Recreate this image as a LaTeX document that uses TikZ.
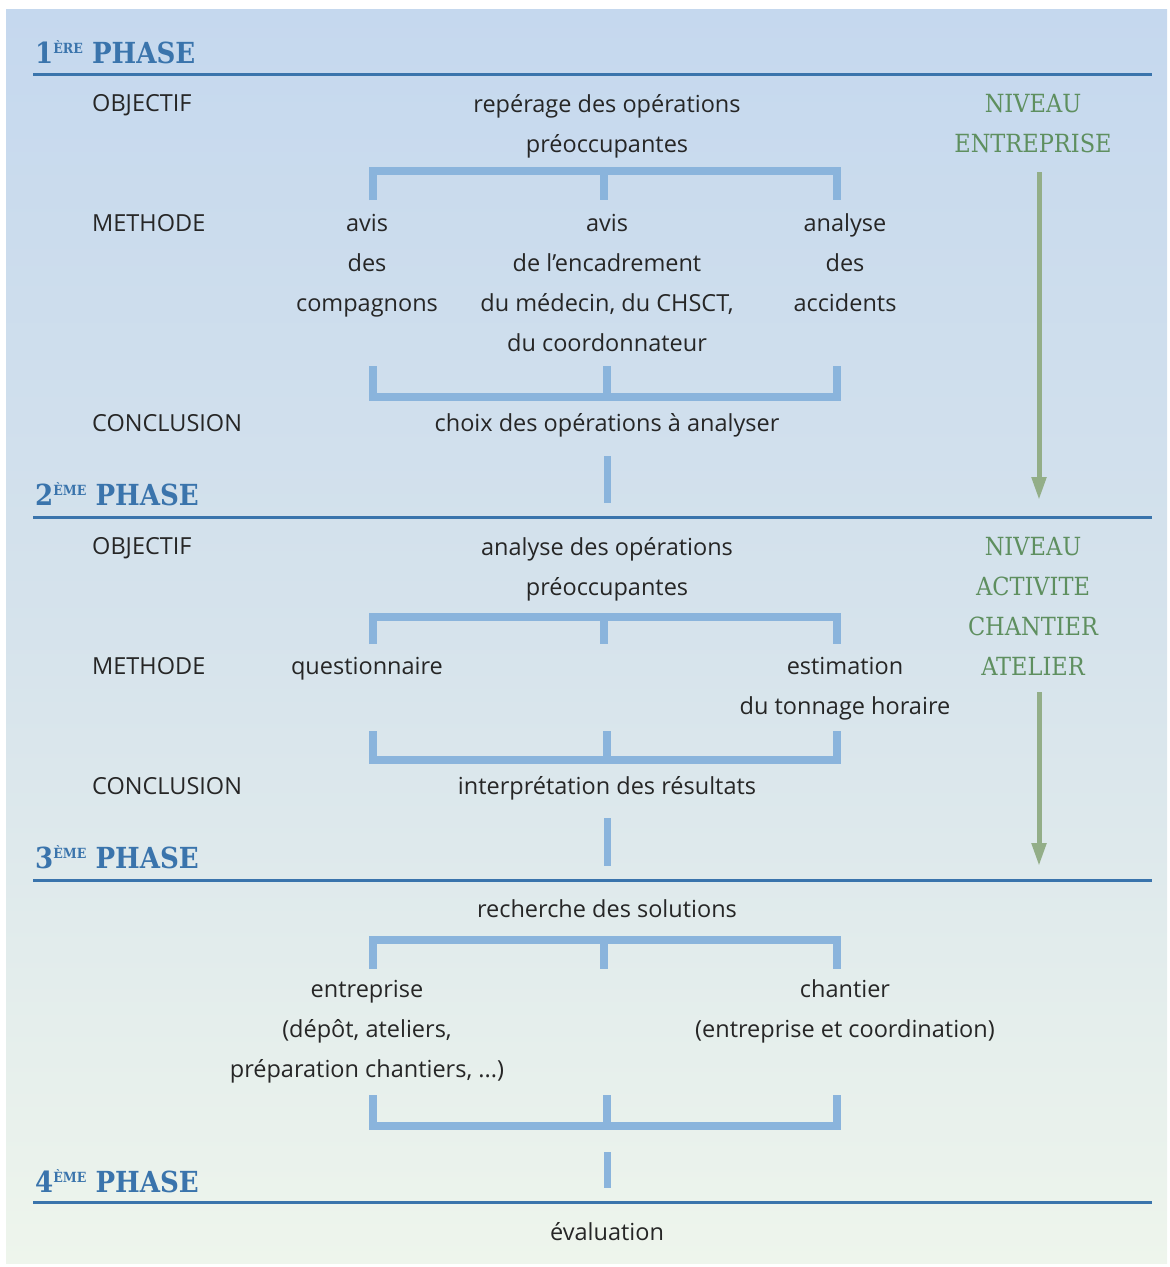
\documentclass[tikz,border=0pt]{standalone}
\usepackage{fontspec}
\setmainfont{Open Sans}
\newfontfamily\slab{DejaVu Serif Condensed}
\usetikzlibrary{arrows.meta}
\definecolor{bgtop}{HTML}{C5D8EE}
\definecolor{bgmid}{HTML}{D6E3EC}
\definecolor{bgbot}{HTML}{EEF5EC}
\definecolor{hblue}{HTML}{3A74AC}
\definecolor{brk}{HTML}{8AB4DC}
\definecolor{txt}{HTML}{262626}
\definecolor{grn}{HTML}{5E8F5F}
\definecolor{garrow}{HTML}{93AE88}
\newcommand\phsup[1]{\raisebox{10pt}{\fontsize{14}{14}\selectfont #1}}
\begin{document}
\begin{tikzpicture}[x=1pt,y=-1pt,
  body/.style={font=\fontsize{23.5}{40}\selectfont, text=txt, inner sep=0pt, align=center,
    execute at begin node=\strut, execute at end node=\strut},
  multi/.style={yshift=-6pt},
  lbl/.style={body, anchor=west},
  niveau/.style={font=\slab\fontsize{25}{40}\selectfont, text=grn, inner sep=0pt, align=center,
    execute at begin node=\strut, execute at end node=\strut, yshift=-6pt},
  phase/.style={font=\slab\bfseries\fontsize{29}{30}\selectfont, text=hblue, inner sep=0pt, anchor=base west},
  rule/.style={hblue, line width=3pt},
  bracket/.style={brk, line width=8pt},
  link/.style={brk, line width=7pt},
  garr/.style={garrow, line width=5pt, -{Triangle[length=23pt, width=14pt]}}
]
\useasboundingbox (0,0) rectangle (1170,1267);
\shade[top color=bgtop, bottom color=bgbot, middle color=bgmid] (6,9) rectangle (1167,1263);

% ---------- Phase headers and rules
\node[phase] (p1) at (35,63) {1\phsup{ÈRE} PHASE};
\node[phase] (p2) at (35,505) {2\phsup{ÈME} PHASE};
\node[phase] (p3) at (35,868) {3\phsup{ÈME} PHASE};
\node[phase] (p4) at (35,1192) {4\phsup{ÈME} PHASE};
\coordinate (r1a) at (33,74);  \coordinate (r1b) at (1152,74);
\coordinate (r2a) at (33,517); \coordinate (r2b) at (1152,517);
\coordinate (r3a) at (33,880); \coordinate (r3b) at (1152,880);
\coordinate (r4a) at (33,1202); \coordinate (r4b) at (1152,1202);
\draw[rule] (r1a) -- (r1b);
\draw[rule] (r2a) -- (r2b);
\draw[rule] (r3a) -- (r3b);
\draw[rule] (r4a) -- (r4b);

% ---------- Phase 1
\node[lbl] (o1) at (92,103) {OBJECTIF};
\node[lbl] (me1) at (92,223) {METHODE};
\node[lbl] (co1) at (92,423) {CONCLUSION};
\node[body,multi] (obj1) at (607,123) {repérage des opérations\\préoccupantes};
\node[niveau] (niv1) at (1033,123) {NIVEAU\\ENTREPRISE};
\node[body,multi] (m1a) at (367,263) {avis\\des\\compagnons};
\node[body,multi] (m1b) at (607,283) {avis\\de l’encadrement\\du médecin, du CHSCT,\\du coordonnateur};
\node[body,multi] (m1c) at (845,263) {analyse\\des\\accidents};
\node[body] (c1) at (607,423) {choix des opérations à analyser};

\draw[bracket] (373,200) -- (373,171) -- (837,171) -- (837,200);
\draw[bracket] (604,171) -- (604,200);
\draw[bracket] (373,366) -- (373,397) -- (837,397) -- (837,366);
\draw[bracket] (607,397) -- (607,366);
\coordinate (l1a) at (607,456); \coordinate (l1b) at (607,503);
\draw[link] (l1a) -- (l1b);
\coordinate (g1a) at (1039,172); \coordinate (g1b) at (1039,500);
\draw[garr] (g1a) -- (g1b);

% ---------- Phase 2
\node[lbl] (o2) at (92,546) {OBJECTIF};
\node[lbl] (me2) at (92,666) {METHODE};
\node[lbl] (co2) at (92,786) {CONCLUSION};
\node[body,multi] (obj2) at (607,566) {analyse des opérations\\préoccupantes};
\node[niveau] (niv2) at (1033,606) {NIVEAU\\ACTIVITE\\CHANTIER\\ATELIER};
\node[body] (m2a) at (367,666) {questionnaire};
\node[body,multi] (m2c) at (845,686) {estimation\\du tonnage horaire};
\node[body] (c2) at (607,786) {interprétation des résultats};

\draw[bracket] (373,644) -- (373,617) -- (837,617) -- (837,644);
\draw[bracket] (604,617) -- (604,644);
\draw[bracket] (373,731) -- (373,760) -- (837,760) -- (837,731);
\draw[bracket] (607,760) -- (607,731);
\coordinate (l2a) at (607,818); \coordinate (l2b) at (607,866);
\draw[link] (l2a) -- (l2b);
\coordinate (g2a) at (1039,692); \coordinate (g2b) at (1039,866);
\draw[garr] (g2a) -- (g2b);

% ---------- Phase 3
\node[body] (s3) at (607,909) {recherche des solutions};
\node[body,multi] (m3a) at (367,1029) {entreprise\\(dépôt, ateliers,\\préparation chantiers, ...)};
\node[body,multi] (m3c) at (845,1009) {chantier\\(entreprise et coordination)};

\draw[bracket] (373,969) -- (373,940) -- (837,940) -- (837,969);
\draw[bracket] (604,940) -- (604,969);
\draw[bracket] (373,1095) -- (373,1126) -- (837,1126) -- (837,1095);
\draw[bracket] (607,1126) -- (607,1095);
\coordinate (l3a) at (607,1152); \coordinate (l3b) at (607,1188);
\draw[link] (l3a) -- (l3b);

% ---------- Phase 4
\node[body] (e4) at (607,1232) {évaluation};
\end{tikzpicture}
\end{document}
